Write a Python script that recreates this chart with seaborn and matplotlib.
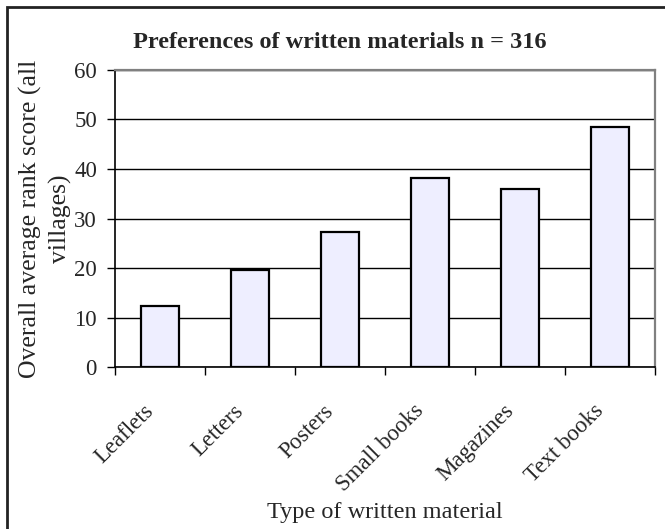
# 문서 자료 선호도 막대그래프

import pandas as pd
import seaborn as sns
import matplotlib.pyplot as plt
import matplotlib.transforms as mtrans
from matplotlib.patches import Rectangle

# 데이터
materials = ["Leaflets", "Letters", "Posters", "Small books", "Magazines", "Text books"]
scores = [12.3, 19.6, 27.2, 38.2, 36.0, 48.4]
y_ticks = [0, 10, 20, 30, 40, 50, 60]

df = pd.DataFrame({"material": materials, "score": scores})

sns.set_style("white")
plt.rcParams["font.family"] = ["Liberation Serif", "DejaVu Serif"]

fig = plt.figure(figsize=(6.65, 5.29), dpi=100)
ax = fig.add_axes([0.1729, 0.3062, 0.8121, 0.5615])

sns.barplot(data=df, x="material", y="score", color="#EEEEFF",
            edgecolor="black", linewidth=1.6, width=0.42,
            saturation=1, ax=ax, zorder=3)

# 축 설정
ax.set_ylim(0, 60)
ax.set_yticks(y_ticks)
ax.set_xlim(-0.5, len(materials) - 0.5)
ax.yaxis.grid(True, color="black", linewidth=1.0, zorder=0)
ax.set_axisbelow(True)

# 눈금: 범주 사이에 표시 (엑셀 스타일)
ax.set_xticks([i - 0.5 for i in range(len(materials) + 1)], minor=True)
ax.tick_params(axis="x", which="minor", length=6, width=1, color="black",
               direction="out", bottom=True)
ax.tick_params(axis="x", which="major", length=0, pad=24)
ax.tick_params(axis="y", length=6, width=1, color="black",
               direction="out", left=True, labelsize=16.5, pad=7)
ax.set_xticks(range(len(materials)))
ax.set_xticklabels(materials, rotation=45, ha="right",
                   rotation_mode="anchor", fontsize=16.5)
shift = mtrans.ScaledTranslation(-17 / 100, 0, fig.dpi_scale_trans)
for lab in ax.get_xticklabels():
    lab.set_transform(lab.get_transform() + shift)

for side in ["left", "bottom"]:
    ax.spines[side].set_color("black")
    ax.spines[side].set_linewidth(1.2)
for side in ["top", "right"]:
    ax.spines[side].set_color("#808080")
    ax.spines[side].set_linewidth(1.6)

ax.set_xlabel("Type of written material", fontsize=17.5)
ax.xaxis.set_label_coords(0.5, -0.455)
ax.set_ylabel("Overall average rank score (all\nvillages)", fontsize=18.5,
              linespacing=1.4)
ax.yaxis.set_label_coords(-0.08, 0.5)
ax.set_title("Preferences of written materials n = 316", fontsize=17.5,
             fontweight="bold", x=0.417, pad=16)

# 바깥 테두리
fig.patches.append(Rectangle((7 / 665, -0.1), 1.2, 1 - 7 / 529 + 0.1,
                             transform=fig.transFigure, fill=False,
                             edgecolor="#222222", linewidth=2.0))

fig.savefig("out.png", dpi=100)
